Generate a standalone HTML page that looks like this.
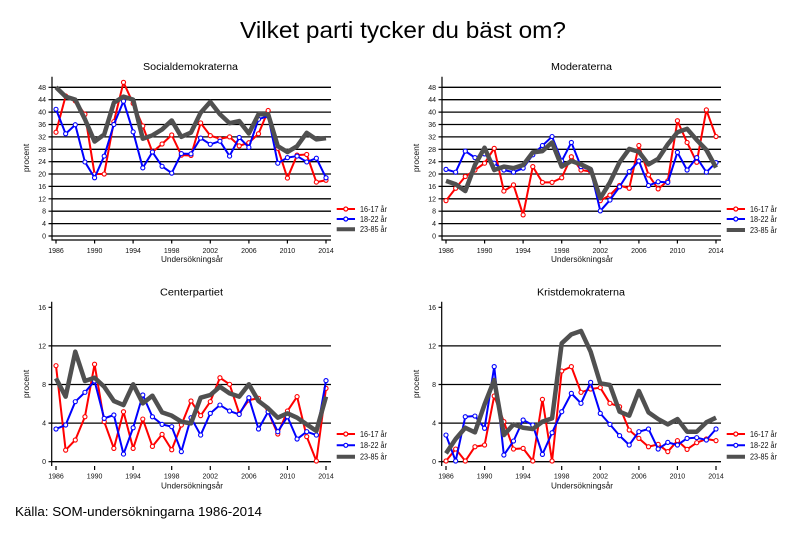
<!DOCTYPE html>
<html><head><meta charset="utf-8"><style>
html,body{margin:0;padding:0;background:#fff;}
svg{display:block;font-family:"Liberation Sans",sans-serif;}
.g{stroke:#000;stroke-width:1.3;fill:none}
.t{font-size:7px;fill:#111}
.ax{stroke:#000;stroke-width:1.2;fill:none}
.r{fill:none;stroke:#f00;stroke-width:2;stroke-linejoin:round}
.b{fill:none;stroke:#00f;stroke-width:2;stroke-linejoin:round}
.k{fill:none;stroke:#505050;stroke-width:4.5;stroke-linejoin:round}
</style></head><body>
<svg width="804" height="536" viewBox="0 0 804 536" xmlns="http://www.w3.org/2000/svg">
<defs>
<marker id="rt" markerUnits="userSpaceOnUse" markerWidth="1" markerHeight="1" overflow="visible" orient="0"><ellipse rx=".27" ry=".84" fill="#f00"/><ellipse rx=".156" ry=".484" fill="#fff"/></marker>
<marker id="bt" markerUnits="userSpaceOnUse" markerWidth="1" markerHeight="1" overflow="visible" orient="0"><ellipse rx=".27" ry=".84" fill="#00f"/><ellipse rx=".156" ry=".484" fill="#fff"/></marker>
<marker id="rb" markerUnits="userSpaceOnUse" markerWidth="1" markerHeight="1" overflow="visible" orient="0"><ellipse rx=".27" ry=".27" fill="#f00"/><ellipse rx=".156" ry=".156" fill="#fff"/></marker>
<marker id="bb" markerUnits="userSpaceOnUse" markerWidth="1" markerHeight="1" overflow="visible" orient="0"><ellipse rx=".27" ry=".27" fill="#00f"/><ellipse rx=".156" ry=".156" fill="#fff"/></marker>
</defs>

<text x="240" y="38" font-size="23" textLength="326" lengthAdjust="spacingAndGlyphs" fill="#000">Vilket parti tycker du bäst om?</text>
<text x="15" y="516" font-size="13" textLength="247" lengthAdjust="spacingAndGlyphs" fill="#000">Källa: SOM-undersökningarna 1986-2014</text>

<!-- ============ TOP LEFT ============ -->
<g>
<text x="143" y="70" font-size="10" textLength="95" lengthAdjust="spacingAndGlyphs" fill="#000">Socialdemokraterna</text>
<path class="g" d="M52 236H331M52 223.6H331M52 211.2H331M52 198.8H331M52 186.4H331M52 174H331M52 161.7H331M52 149.3H331M52 136.9H331M52 124.5H331M52 112.1H331M52 99.7H331M52 87.3H331"/>
<path class="ax" d="M52 76.7V240H331M48.5 236H52M48.5 223.6H52M48.5 211.2H52M48.5 198.8H52M48.5 186.4H52M48.5 174H52M48.5 161.7H52M48.5 149.3H52M48.5 136.9H52M48.5 124.5H52M48.5 112.1H52M48.5 99.7H52M48.5 87.3H52M56 240V243.5M94.6 240V243.5M133.1 240V243.5M171.7 240V243.5M210.3 240V243.5M248.9 240V243.5M287.4 240V243.5M326 240V243.5"/>
<g class="t" text-anchor="end"><text x="46" y="238.5">0</text><text x="46" y="226.1">4</text><text x="46" y="213.7">8</text><text x="46" y="201.3">12</text><text x="46" y="188.9">16</text><text x="46" y="176.5">20</text><text x="46" y="164.2">24</text><text x="46" y="151.8">28</text><text x="46" y="139.4">32</text><text x="46" y="127">36</text><text x="46" y="114.6">40</text><text x="46" y="102.2">44</text><text x="46" y="89.8">48</text></g>
<g class="t" text-anchor="middle"><text x="56" y="253">1986</text><text x="94.6" y="253">1990</text><text x="133.1" y="253">1994</text><text x="171.7" y="253">1998</text><text x="210.3" y="253">2002</text><text x="248.9" y="253">2006</text><text x="287.4" y="253">2010</text><text x="326" y="253">2014</text></g>
<text x="161" y="262" font-size="8" textLength="62" lengthAdjust="spacingAndGlyphs" fill="#111">Undersökningsår</text>
<text transform="translate(29,158) rotate(-90)" text-anchor="middle" font-size="8.5" fill="#111">procent</text>
<g transform="translate(56,236) scale(9.643,-3.098)">
<polyline class="r" vector-effect="non-scaling-stroke" marker-start="url(#rt)" marker-mid="url(#rt)" marker-end="url(#rt)" points="0,33.5 1,45.2 2,43.6 3,39.3 4,20 5,20 6,36.9 7,49.6 8,42.8 9,35.5 10,27.1 11,29.7 12,32.6 13,26.1 14,26 15,36.5 16,32.4 17,31.4 18,32 19,29.1 20,30.1 21,33 22,40.5 23,28.3 24,18.7 25,26.1 26,26.3 27,17.4 28,18"/>
<polyline class="b" vector-effect="non-scaling-stroke" marker-start="url(#bt)" marker-mid="url(#bt)" marker-end="url(#bt)" points="0,40.9 1,33 2,35.9 3,23.9 4,18.8 5,25.8 6,36 7,43.5 8,33.6 9,22 10,27.1 11,22.5 12,20.3 13,26.6 14,26.5 15,31.6 16,29.6 17,30.6 18,25.8 19,31.8 20,28.6 21,37.7 22,38.7 23,23.5 24,25.3 25,25.8 26,23.9 27,25.1 28,18.8"/>
<polyline class="k" vector-effect="non-scaling-stroke" points="0,48 1,45 2,44 3,37.7 4,30.5 5,32.8 6,43 7,45 8,44 9,31.4 10,32.5 11,34.4 12,37.3 13,32 14,33.4 15,39.8 16,43.3 17,39.3 18,36.4 19,37.1 20,33.1 21,39.3 22,39.3 23,29 24,27.1 25,29 26,33.3 27,31.2 28,31.6"/>
</g>
<path d="M336.7 209H355" stroke="#f00" stroke-width="2"/><circle cx="345.8" cy="209" r="2" fill="#fff" stroke="#f00" stroke-width="1.2"/>
<path d="M336.7 219H355" stroke="#00f" stroke-width="2"/><circle cx="345.8" cy="219" r="2" fill="#fff" stroke="#00f" stroke-width="1.2"/>
<path d="M336.7 229.3H355" stroke="#505050" stroke-width="4"/>
<g font-size="8" fill="#111"><text x="360" y="211.8" textLength="27" lengthAdjust="spacingAndGlyphs">16-17 år</text><text x="360" y="221.8" textLength="27" lengthAdjust="spacingAndGlyphs">18-22 år</text><text x="360" y="232.1" textLength="27" lengthAdjust="spacingAndGlyphs">23-85 år</text></g>
</g>

<!-- ============ TOP RIGHT ============ -->
<g>
<text x="551" y="70" font-size="10" textLength="61" lengthAdjust="spacingAndGlyphs" fill="#000">Moderaterna</text>
<path class="g" d="M442 236H721M442 223.6H721M442 211.2H721M442 198.8H721M442 186.4H721M442 174H721M442 161.7H721M442 149.3H721M442 136.9H721M442 124.5H721M442 112.1H721M442 99.7H721M442 87.3H721"/>
<path class="ax" d="M442 76.7V240H721M438.5 236H442M438.5 223.6H442M438.5 211.2H442M438.5 198.8H442M438.5 186.4H442M438.5 174H442M438.5 161.7H442M438.5 149.3H442M438.5 136.9H442M438.5 124.5H442M438.5 112.1H442M438.5 99.7H442M438.5 87.3H442M446 240V243.5M484.6 240V243.5M523.1 240V243.5M561.7 240V243.5M600.3 240V243.5M638.9 240V243.5M677.4 240V243.5M716 240V243.5"/>
<g class="t" text-anchor="end"><text x="436" y="238.5">0</text><text x="436" y="226.1">4</text><text x="436" y="213.7">8</text><text x="436" y="201.3">12</text><text x="436" y="188.9">16</text><text x="436" y="176.5">20</text><text x="436" y="164.2">24</text><text x="436" y="151.8">28</text><text x="436" y="139.4">32</text><text x="436" y="127">36</text><text x="436" y="114.6">40</text><text x="436" y="102.2">44</text><text x="436" y="89.8">48</text></g>
<g class="t" text-anchor="middle"><text x="446" y="253">1986</text><text x="484.6" y="253">1990</text><text x="523.1" y="253">1994</text><text x="561.7" y="253">1998</text><text x="600.3" y="253">2002</text><text x="638.9" y="253">2006</text><text x="677.4" y="253">2010</text><text x="716" y="253">2014</text></g>
<text x="551" y="262" font-size="8" textLength="62" lengthAdjust="spacingAndGlyphs" fill="#111">Undersökningsår</text>
<text transform="translate(419,158) rotate(-90)" text-anchor="middle" font-size="8.5" fill="#111">procent</text>
<g transform="translate(446,236) scale(9.643,-3.098)">
<polyline class="r" vector-effect="non-scaling-stroke" marker-start="url(#rt)" marker-mid="url(#rt)" marker-end="url(#rt)" points="0,11.4 1,15.4 2,19.2 3,21.3 4,23.5 5,28.3 6,14.5 7,16.5 8,6.8 9,22.4 10,17.3 11,17.3 12,18.8 13,25.6 14,21.3 15,20.8 16,11.4 17,13.2 18,16.3 19,15.4 20,29.2 21,19.7 22,15.2 23,17.8 24,37.2 25,30.2 26,23.8 27,40.7 28,32.1"/>
<polyline class="b" vector-effect="non-scaling-stroke" marker-start="url(#bt)" marker-mid="url(#bt)" marker-end="url(#bt)" points="0,21.5 1,20.6 2,27.4 3,25.3 4,26.5 5,23.5 6,21.3 7,20.6 8,21.9 9,26.2 10,29.2 11,32.1 12,24.2 13,30.2 14,22.4 15,21.3 16,8.1 17,11.6 18,15.9 19,20.8 20,24.2 21,16.3 22,17.5 23,17.3 24,27 25,21.3 26,25.3 27,20.6 28,23.7"/>
<polyline class="k" vector-effect="non-scaling-stroke" points="0,17.8 1,16.7 2,14.5 3,22.9 4,28.5 5,21.3 6,22.4 7,21.9 8,22.9 9,27 10,27.4 11,30.2 12,22.4 13,24.2 14,23.1 15,21.6 16,12.2 17,17.3 18,23.8 19,28.1 20,27.2 21,23.1 22,24.9 23,29.6 24,33.5 25,34.6 26,31 27,27.8 28,22.1"/>
</g>
<path d="M726.7 209H745" stroke="#f00" stroke-width="2"/><circle cx="735.8" cy="209" r="2" fill="#fff" stroke="#f00" stroke-width="1.2"/>
<path d="M726.7 219H745" stroke="#00f" stroke-width="2"/><circle cx="735.8" cy="219" r="2" fill="#fff" stroke="#00f" stroke-width="1.2"/>
<path d="M726.7 230H745" stroke="#505050" stroke-width="4"/>
<g font-size="8" fill="#111"><text x="750" y="211.8" textLength="27" lengthAdjust="spacingAndGlyphs">16-17 år</text><text x="750" y="221.8" textLength="27" lengthAdjust="spacingAndGlyphs">18-22 år</text><text x="750" y="232.8" textLength="27" lengthAdjust="spacingAndGlyphs">23-85 år</text></g>
</g>

<!-- ============ BOTTOM LEFT ============ -->
<g>
<text x="160" y="295.7" font-size="10" textLength="63" lengthAdjust="spacingAndGlyphs" fill="#000">Centerpartiet</text>
<path class="g" d="M52 461.7H331M52 423.1H331M52 384.5H331M52 345.9H331"/>
<path class="ax" d="M51.7 301.7V466M48.5 461.7H51.7M48.5 423.1H51.7M48.5 384.5H51.7M48.5 345.9H51.7M48.5 307.3H51.7M56 466V470M94.6 466V470M133.1 466V470M171.7 466V470M210.3 466V470M248.9 466V470M287.4 466V470M326 466V470"/>
<g class="t" text-anchor="end"><text x="46" y="464.2">0</text><text x="46" y="425.6">4</text><text x="46" y="387">8</text><text x="46" y="348.4">12</text><text x="46" y="309.8">16</text></g>
<g class="t" text-anchor="middle"><text x="56" y="478.5">1986</text><text x="94.6" y="478.5">1990</text><text x="133.1" y="478.5">1994</text><text x="171.7" y="478.5">1998</text><text x="210.3" y="478.5">2002</text><text x="248.9" y="478.5">2006</text><text x="287.4" y="478.5">2010</text><text x="326" y="478.5">2014</text></g>
<text x="161" y="488.5" font-size="8" textLength="62" lengthAdjust="spacingAndGlyphs" fill="#111">Undersökningsår</text>
<text transform="translate(29,384) rotate(-90)" text-anchor="middle" font-size="8.5" fill="#111">procent</text>
<g transform="translate(56,461.7) scale(9.643,-9.65)">
<polyline class="r" vector-effect="non-scaling-stroke" marker-start="url(#rb)" marker-mid="url(#rb)" marker-end="url(#rb)" points="0,9.95 1,1.2 2,2.25 3,4.66 4,10.1 5,4.15 6,1.38 7,5.18 8,1.38 9,4.42 10,1.59 11,2.83 12,1.24 13,3.8 14,6.29 15,4.77 16,6.22 17,8.7 18,8.02 19,5 20,6.39 21,6.57 22,5.18 23,2.87 24,5.25 25,6.74 26,2.6 27,0.07 28,7.6"/>
<polyline class="b" vector-effect="non-scaling-stroke" marker-start="url(#bb)" marker-mid="url(#bb)" marker-end="url(#bb)" points="0,3.39 1,3.8 2,6.22 3,7.19 4,8.36 5,4.49 6,4.84 7,0.79 8,3.52 9,6.91 10,4.66 11,3.87 12,3.63 13,1.04 14,4.56 15,2.76 16,5.01 17,5.87 18,5.25 19,4.9 20,6.63 21,3.39 22,5.18 23,3.11 24,4.66 25,2.35 26,3.11 27,2.76 28,8.4"/>
<polyline class="k" vector-effect="non-scaling-stroke" points="0,8.64 1,6.74 2,11.4 3,8.36 4,8.7 5,7.77 6,6.29 7,5.87 8,8.02 9,6.05 10,6.84 11,5.11 12,4.77 13,4.15 14,3.97 15,6.63 16,6.91 17,7.77 18,7.08 19,6.74 20,8.02 21,6.29 22,5.53 23,4.56 24,5.01 25,4.56 26,3.87 27,3.18 28,6.74"/>
</g>
<path d="M336.7 434H355" stroke="#f00" stroke-width="2"/><circle cx="345.8" cy="434" r="2" fill="#fff" stroke="#f00" stroke-width="1.2"/>
<path d="M336.7 445.3H355" stroke="#00f" stroke-width="2"/><circle cx="345.8" cy="445.3" r="2" fill="#fff" stroke="#00f" stroke-width="1.2"/>
<path d="M336.7 456.7H355" stroke="#505050" stroke-width="4"/>
<g font-size="8" fill="#111"><text x="360" y="436.8" textLength="27" lengthAdjust="spacingAndGlyphs">16-17 år</text><text x="360" y="448.1" textLength="27" lengthAdjust="spacingAndGlyphs">18-22 år</text><text x="360" y="459.5" textLength="27" lengthAdjust="spacingAndGlyphs">23-85 år</text></g>
</g>

<!-- ============ BOTTOM RIGHT ============ -->
<g>
<text x="537" y="295.7" font-size="10" textLength="88" lengthAdjust="spacingAndGlyphs" fill="#000">Kristdemokraterna</text>
<path class="g" d="M442 461.7H721M442 423.1H721M442 384.5H721M442 345.9H721"/>
<path class="ax" d="M441.7 301.7V466M438.5 461.7H441.7M438.5 423.1H441.7M438.5 384.5H441.7M438.5 345.9H441.7M438.5 307.3H441.7M446 466V470M484.6 466V470M523.1 466V470M561.7 466V470M600.3 466V470M638.9 466V470M677.4 466V470M716 466V470"/>
<g class="t" text-anchor="end"><text x="436" y="464.2">0</text><text x="436" y="425.6">4</text><text x="436" y="387">8</text><text x="436" y="348.4">12</text><text x="436" y="309.8">16</text></g>
<g class="t" text-anchor="middle"><text x="446" y="478.5">1986</text><text x="484.6" y="478.5">1990</text><text x="523.1" y="478.5">1994</text><text x="561.7" y="478.5">1998</text><text x="600.3" y="478.5">2002</text><text x="638.9" y="478.5">2006</text><text x="677.4" y="478.5">2010</text><text x="716" y="478.5">2014</text></g>
<text x="551" y="488.5" font-size="8" textLength="62" lengthAdjust="spacingAndGlyphs" fill="#111">Undersökningsår</text>
<text transform="translate(419,384) rotate(-90)" text-anchor="middle" font-size="8.5" fill="#111">procent</text>
<g transform="translate(446,461.7) scale(9.643,-9.65)">
<polyline class="r" vector-effect="non-scaling-stroke" marker-start="url(#rb)" marker-mid="url(#rb)" marker-end="url(#rb)" points="0,0.07 1,1.31 2,0.07 3,1.55 4,1.73 5,6.81 6,4.15 7,1.31 8,1.38 9,0.07 10,6.46 11,0.07 12,9.4 13,9.85 14,7.19 15,7.53 16,7.67 17,6.05 18,5.7 19,3.28 20,2.42 21,1.55 22,1.8 23,1.04 24,2.18 25,1.28 26,1.97 27,2.35 28,2.18"/>
<polyline class="b" vector-effect="non-scaling-stroke" marker-start="url(#bb)" marker-mid="url(#bb)" marker-end="url(#bb)" points="0,2.76 1,0.07 2,4.66 3,4.73 4,3.46 5,9.85 6,0.69 7,2.14 8,4.32 9,3.8 10,0.76 11,3 12,5.18 13,7.08 14,6.05 15,8.22 16,5.01 17,3.87 18,2.7 19,1.73 20,3.11 21,3.39 22,1.31 23,2 24,1.73 25,2.42 26,2.49 27,2.25 28,3.39"/>
<polyline class="k" vector-effect="non-scaling-stroke" points="0,0.86 1,2.35 2,3.52 3,3.04 4,5.94 5,8.47 6,2.76 7,3.87 8,3.52 9,3.39 10,4.15 11,4.49 12,12.27 13,13.2 14,13.55 15,11.4 16,8.12 17,7.95 18,5.18 19,4.77 20,7.33 21,5.11 22,4.42 23,3.87 24,4.42 25,3.11 26,3.11 27,4.08 28,4.56"/>
</g>
<path d="M726.7 434H745" stroke="#f00" stroke-width="2"/><circle cx="735.8" cy="434" r="2" fill="#fff" stroke="#f00" stroke-width="1.2"/>
<path d="M726.7 445.3H745" stroke="#00f" stroke-width="2"/><circle cx="735.8" cy="445.3" r="2" fill="#fff" stroke="#00f" stroke-width="1.2"/>
<path d="M726.7 456.7H745" stroke="#505050" stroke-width="4"/>
<g font-size="8" fill="#111"><text x="750" y="436.8" textLength="27" lengthAdjust="spacingAndGlyphs">16-17 år</text><text x="750" y="448.1" textLength="27" lengthAdjust="spacingAndGlyphs">18-22 år</text><text x="750" y="459.5" textLength="27" lengthAdjust="spacingAndGlyphs">23-85 år</text></g>
</g>
</svg>
</body></html>
